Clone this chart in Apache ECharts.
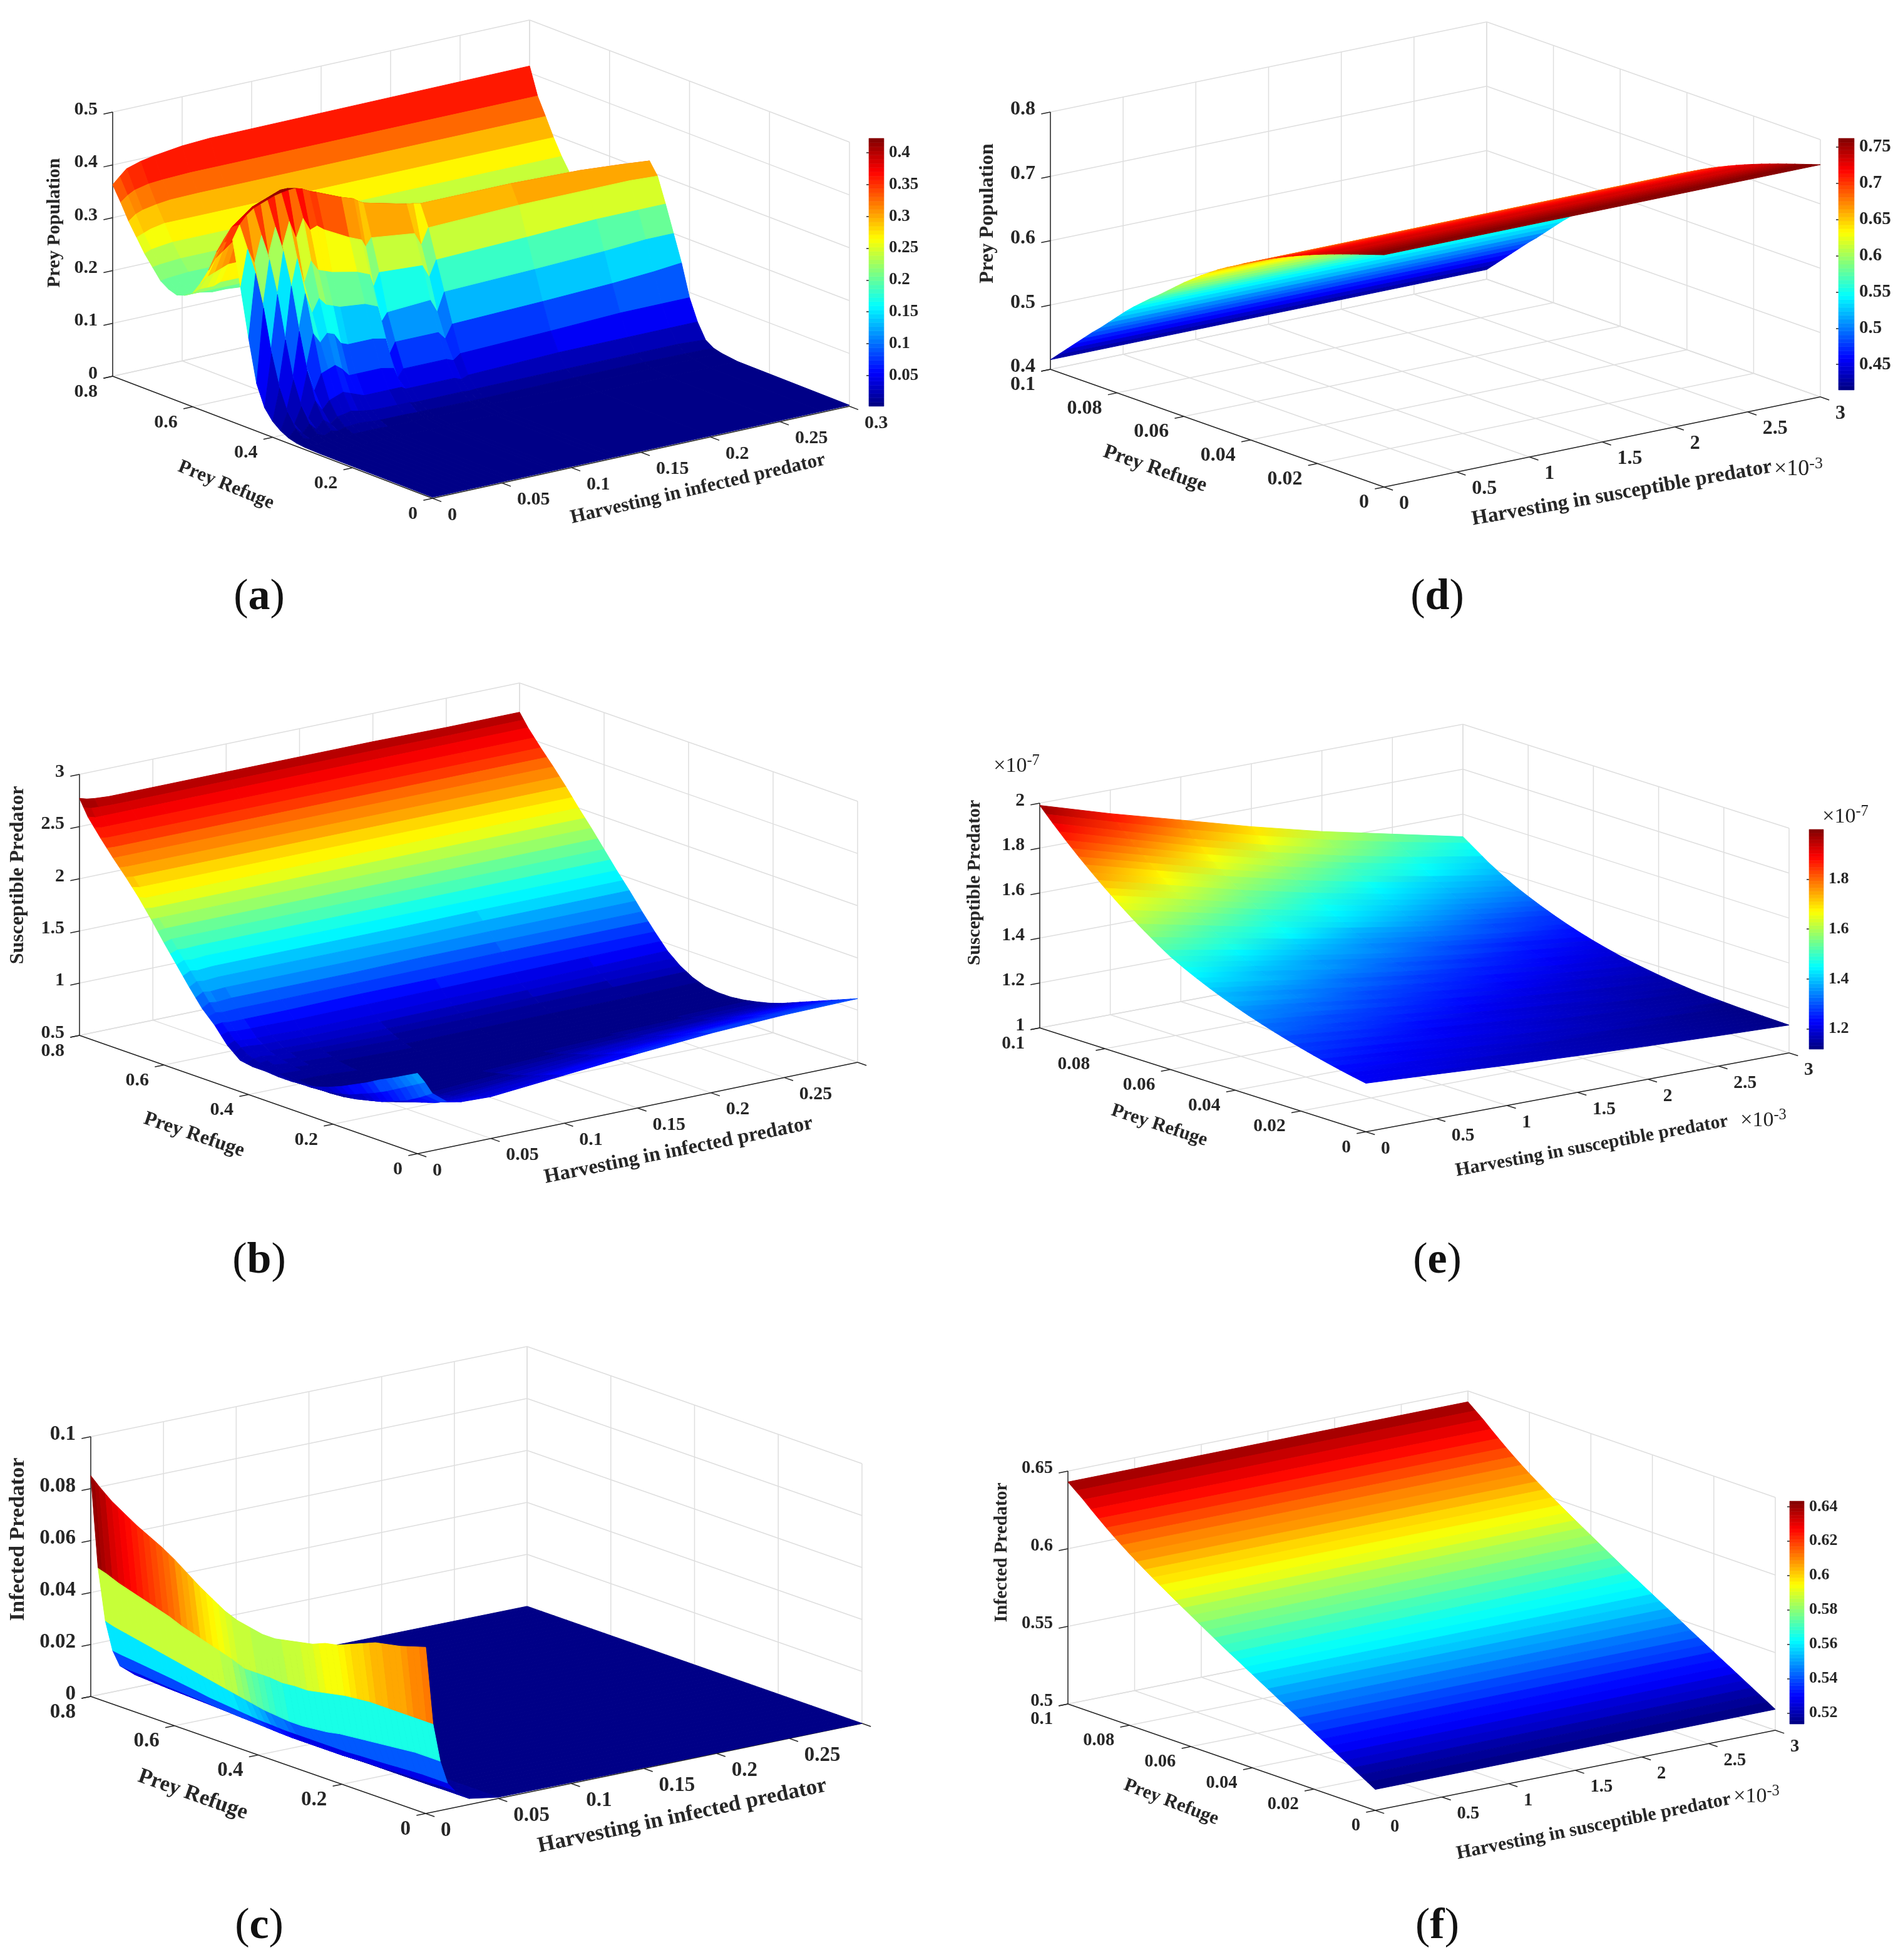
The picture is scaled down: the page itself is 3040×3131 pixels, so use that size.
<!DOCTYPE html>
<html><head><meta charset="utf-8"><style>html,body{margin:0;background:#fff}#c{width:3040px;height:3131px}</style>
<script src="https://cdn.jsdelivr.net/npm/echarts@6/dist/echarts.min.js"></script></head><body><div id="c"></div>
<script>
// ---------- panel (a) ----------
const aRearX=[0,.005,.01,.02,.03,.05,.07,.3];
const aRearY=[.62,.64,.66,.68,.70,.72,.74,.76,.78,.80];
const aRearZ=[
[.205,.205,.205,.2,.2,.195,.19,.19],
[.20,.2,.2,.2,.2,.195,.195,.195],
[.205,.205,.205,.205,.205,.205,.205,.205],
[.215,.217,.218,.22,.22,.22,.22,.22],
[.235,.237,.238,.24,.24,.24,.24,.24],
[.255,.26,.262,.265,.265,.265,.265,.265],
[.28,.285,.29,.295,.295,.295,.295,.295],
[.305,.315,.32,.325,.328,.329,.329,.329],
[.335,.345,.352,.358,.36,.362,.362,.362],
[.3625,.375,.387,.395,.40,.407,.41,.413]];
const aFrontX=[0,.005,.01,.015,.02,.025,.03,.035,.04,.045,.05,.055,.06,.078,.087,.09,.094,.125,.13,.135,.2,.25,.28,.3];
const aFrontY=[0,.28,.32,.34,.36,.38,.40,.42,.44,.46,.48,.50,.52,.54,.56,.58,.60,.62];
const aFrontZ=[
[.002,.002,.002,.002,.002,.002,.002,.002,.002,.002,.002,.002,.002,.002,.002,.002,.002,.002,.002,.002,.002,.002,.002,.002],
[.003,.004,.003,.004,.004,.004,.004,.004,.004,.004,.004,.004,.004,.004,.004,.004,.004,.004,.004,.004,.004,.004,.004,.004],
[.004,.007,.005,.008,.006,.008,.007,.009,.009,.009,.009,.009,.008,.008,.008,.008,.008,.008,.008,.008,.008,.008,.008,.008],
[.006,.012,.008,.014,.009,.015,.012,.016,.017,.018,.017,.016,.015,.015,.014,.014,.014,.013,.013,.013,.014,.014,.013,.012],
[.01,.025,.013,.028,.015,.03,.02,.03,.032,.035,.032,.03,.028,.027,.027,.025,.025,.025,.024,.025,.025,.025,.025,.022],
[.018,.05,.025,.055,.03,.06,.04,.055,.06,.065,.06,.055,.05,.05,.05,.045,.045,.045,.04,.045,.05,.05,.05,.05],
[.03,.09,.045,.10,.05,.11,.07,.10,.105,.11,.10,.085,.085,.085,.08,.06,.075,.075,.07,.08,.085,.09,.09,.09],
[.05,.15,.085,.17,.09,.18,.11,.17,.15,.165,.16,.14,.135,.135,.13,.10,.12,.12,.105,.13,.135,.14,.145,.15],
[.09,.23,.14,.25,.15,.26,.17,.24,.20,.225,.21,.205,.20,.195,.185,.155,.17,.175,.15,.185,.19,.195,.2,.20],
[.17,.29,.22,.31,.23,.32,.24,.30,.25,.29,.27,.265,.26,.25,.24,.215,.24,.235,.21,.24,.245,.25,.25,.25],
[.26,.33,.30,.35,.31,.36,.32,.365,.33,.365,.34,.345,.335,.31,.30,.285,.30,.29,.265,.295,.30,.30,.30,.297],
[.345,.37,.385,.395,.40,.405,.41,.413,.415,.416,.412,.405,.40,.38,.372,.366,.36,.34,.338,.335,.335,.331,.325,.32],
[.335,.36,.37,.38,.39,.395,.40,.405,.41,.41,.405,.395,.39,.37,.36,.35,.345,.33,.325,.32,.32,.315,.31,.31],
[.31,.33,.345,.355,.365,.37,.375,.38,.38,.38,.375,.37,.36,.345,.335,.325,.32,.3,.3,.295,.295,.295,.29,.29],
[.27,.29,.3,.31,.32,.325,.33,.33,.33,.33,.325,.315,.31,.29,.28,.27,.265,.26,.26,.26,.26,.26,.26,.26],
[.24,.25,.255,.26,.265,.265,.27,.27,.27,.27,.265,.26,.255,.24,.235,.23,.225,.22,.22,.22,.22,.22,.22,.22],
[.215,.22,.22,.22,.225,.225,.225,.225,.225,.225,.22,.22,.215,.21,.205,.205,.2,.2,.2,.2,.2,.2,.2,.2],
[.205,.205,.205,.205,.205,.205,.205,.205,.205,.205,.205,.2,.2,.2,.2,.195,.195,.19,.19,.19,.19,.19,.19,.19]];
// ---------- panel (b) ----------
const bX=[0,.005,.01,.02,.03,.05,.1,.15,.2,.25,.3];
const bY=[0,.03,.06,.09,.12,.15,.18,.21,.24,.27,.30,.33,.36,.39,.42,.45,.48,.51,.54,.57,.60,.63,.66,.69,.72,.75,.78,.80];
const bZ=[
[1.27,1.17,1.05,.94,.91,.90,.96,1.02,1.07,1.10,1.11],
[1.205,1.10,.97,.89,.87,.86,.92,.98,1.03,1.05,1.06],
[1.14,1.03,.90,.85,.83,.82,.87,.93,.97,1.0,1.01],
[1.08,.96,.85,.81,.79,.78,.83,.88,.92,.95,.96],
[1.01,.90,.80,.77,.76,.75,.79,.84,.87,.90,.91],
[.95,.85,.77,.74,.73,.72,.76,.80,.83,.85,.86],
[.89,.80,.74,.72,.71,.70,.73,.76,.78,.80,.81],
[.84,.77,.72,.71,.70,.69,.71,.73,.75,.77,.77],
[.80,.75,.71,.71,.70,.69,.70,.71,.72,.73,.74],
[.78,.74,.71,.71,.71,.69,.69,.70,.70,.71,.715],
[.77,.74,.72,.72,.72,.70,.69,.69,.70,.70,.70],
[.77,.75,.74,.74,.73,.71,.70,.70,.70,.70,.70],
[.78,.77,.77,.76,.75,.73,.71,.71,.71,.71,.715],
[.78,.80,.81,.79,.78,.77,.75,.75,.75,.75,.76],
[.80,.84,.85,.83,.83,.82,.81,.81,.82,.83,.83],
[.90,.93,.92,.91,.91,.90,.90,.91,.91,.92,.93],
[1.05,1.06,1.05,1.05,1.05,1.05,1.06,1.06,1.07,1.07,1.07],
[1.17,1.21,1.2,1.21,1.21,1.21,1.21,1.22,1.22,1.22,1.22],
[1.33,1.37,1.36,1.37,1.37,1.37,1.37,1.37,1.38,1.38,1.38],
[1.50,1.53,1.52,1.53,1.53,1.53,1.53,1.53,1.53,1.53,1.53],
[1.67,1.69,1.69,1.69,1.69,1.69,1.69,1.69,1.69,1.69,1.69],
[1.85,1.85,1.85,1.85,1.85,1.85,1.85,1.85,1.85,1.85,1.85],
[2.02,2.0,2.0,2.0,2.0,2.0,2.0,2.0,2.0,2.0,2.0],
[2.17,2.16,2.16,2.16,2.16,2.16,2.16,2.16,2.16,2.16,2.16],
[2.31,2.31,2.31,2.31,2.31,2.31,2.31,2.31,2.31,2.31,2.31],
[2.46,2.45,2.45,2.45,2.45,2.45,2.45,2.45,2.45,2.45,2.45],
[2.62,2.6,2.6,2.6,2.6,2.6,2.6,2.6,2.6,2.6,2.6],
[2.77,2.75,2.74,2.73,2.73,2.73,2.73,2.73,2.73,2.72,2.72]];
// ---------- panel (c) ----------
const cX=[0,.005,.01,.015,.02,.03,.05,.3];
const cY=[0,.03,.06,.09,.12,.15,.18,.21,.24,.27,.30,.33,.36,.39,.42,.45,.48,.51,.54,.57,.60,.63,.66,.69,.72,.75,.78,.80];
const cZ=[
[.064,.034,.019,.010,.0065,.0023,.0005,0],
[.0625,.034,.019,.010,.0065,.0023,.0005,0],
[.061,.034,.019,.010,.0062,.0023,.0005,0],
[.060,.034,.0185,.0098,.006,.0022,.0005,0],
[.059,.034,.018,.0095,.006,.0022,.0005,0],
[.057,.034,.0175,.0092,.0058,.0022,.0005,0],
[.055,.0335,.017,.009,.0055,.0022,.0005,0],
[.053,.033,.0165,.0088,.0055,.0022,.0005,0],
[.052,.032,.016,.0085,.0052,.0022,.0005,0],
[.05,.031,.015,.0085,.005,.0022,.0005,0],
[.049,.03,.0145,.0085,.005,.0022,.0005,0],
[.048,.03,.014,.0085,.005,.0022,.0005,0],
[.047,.0295,.014,.0085,.005,.0022,.0005,0],
[.047,.03,.0145,.0085,.005,.0022,.0005,0],
[.048,.03,.015,.0088,.0052,.0024,.0005,0],
[.049,.03,.016,.009,.0055,.0025,.0005,0],
[.051,.032,.017,.0095,.0058,.0026,.0005,0],
[.054,.0335,.018,.010,.006,.0028,.0005,0],
[.057,.035,.019,.0105,.0063,.003,.0005,0],
[.0605,.0365,.02,.011,.0066,.0032,.0005,0],
[.064,.038,.021,.0118,.007,.0034,.0005,0],
[.067,.04,.022,.0125,.0073,.0036,.0005,0],
[.0695,.0415,.023,.0132,.0077,.0038,.0005,0],
[.072,.043,.024,.0138,.008,.004,.0005,0],
[.075,.0445,.025,.0144,.0085,.0042,.0005,0],
[.078,.046,.026,.015,.009,.0045,.0005,0],
[.082,.048,.027,.0155,.0092,.0048,.0005,0],
[.085,.049,.028,.016,.0095,.005,.0005,0]];
// colour levels of the second to fifth strips, one per row
const cStrip2=[.034,.034,.034,.034,.034,.034,.034,.034,.034,.034,.034,.034,.035,.036,.039,.043,.047,.048,.048,.048,.048,.048,.048,.048,.048,.048,.048,.048];
const cStrip3=[.018,.018,.018,.018,.018,.018,.018,.018,.018,.018,.018,.018,.019,.021,.024,.027,.029,.03,.03,.03,.03,.03,.03,.03,.03,.03,.03,.03];
const cStrip4=[.008,.008,.008,.008,.008,.008,.008,.008,.008,.008,.008,.008,.009,.011,.013,.015,.016,.016,.016,.016,.016,.016,.016,.016,.016,.016,.016,.016];
const cStrip5=[.003,.003,.003,.003,.003,.003,.003,.003,.003,.003,.003,.003,.003,.004,.006,.007,.008,.008,.008,.008,.008,.008,.008,.008,.008,.008,.008,.008];
const cStrips=[cStrip2,cStrip3,cStrip4,cStrip5];
// ---------- panel (d) ----------
const dX=[0,3];
const dY=[0,.0025,.005,.0075,.01,.0125,.015,.0175,.02,.0225,.025,.0275,.03,.0325,.035,.0375,.04,.0425,.045,.0475,.05,.0525,.055,.0575,.06,.0625,.065,.0675,.07,.0725,.075,.0775,.08,.0825,.085,.0875,.09,.0925,.095,.0975,.1];
const dProfile=[.761,.7568,.7525,.7482,.7438,.7393,.7347,.73,.725,.7198,.7144,.7087,.7028,.6966,.69,.683,.676,.669,.661,.654,.646,.637,.628,.618,.608,.597,.586,.575,.565,.554,.543,.531,.518,.505,.492,.480,.467,.454,.441,.428,.415];
// ---------- panel (e) ----------
const eX=[0,.5,1,1.5,2,2.5,3];
const eY=[0,.004,.008,.012,.016,.02,.024,.028,.032,.036,.04,.044,.048,.052,.056,.06,.064,.068,.072,.076,.08,.084,.088,.092,.096,.1];
const eZ=[
[1.216,1.198,1.179,1.163,1.148,1.135,1.124],
[1.227,1.207,1.186,1.168,1.152,1.138,1.1255],
[1.239,1.217,1.194,1.174,1.156,1.140,1.127],
[1.252,1.227,1.203,1.181,1.161,1.144,1.129],
[1.266,1.239,1.212,1.188,1.166,1.147,1.131],
[1.281,1.252,1.222,1.196,1.172,1.152,1.134],
[1.297,1.265,1.233,1.204,1.179,1.156,1.137],
[1.314,1.279,1.245,1.214,1.186,1.162,1.141],
[1.332,1.295,1.258,1.225,1.195,1.169,1.147],
[1.351,1.312,1.272,1.237,1.205,1.178,1.154],
[1.372,1.33,1.288,1.25,1.217,1.187,1.162],
[1.394,1.349,1.305,1.265,1.229,1.198,1.171],
[1.418,1.371,1.323,1.281,1.243,1.209,1.181],
[1.444,1.394,1.344,1.298,1.258,1.223,1.193],
[1.472,1.419,1.366,1.318,1.276,1.239,1.207],
[1.503,1.447,1.391,1.34,1.295,1.256,1.222],
[1.54,1.48,1.42,1.365,1.317,1.275,1.239],
[1.58,1.516,1.451,1.393,1.342,1.297,1.258],
[1.622,1.553,1.485,1.423,1.368,1.32,1.279],
[1.667,1.594,1.521,1.455,1.397,1.346,1.302],
[1.714,1.637,1.559,1.49,1.428,1.373,1.327],
[1.764,1.682,1.6,1.526,1.461,1.403,1.354],
[1.816,1.73,1.644,1.566,1.497,1.437,1.385],
[1.871,1.781,1.691,1.609,1.537,1.474,1.42],
[1.929,1.835,1.741,1.657,1.582,1.516,1.46],
[1.99,1.895,1.808,1.72,1.64,1.57,1.5]];
// ---------- panel (f) ----------
const fX=[0,3];
const fY=[0,.0025,.005,.0075,.01,.0125,.015,.0175,.02,.0225,.025,.0275,.03,.0325,.035,.0375,.04,.0425,.045,.0475,.05,.0525,.055,.0575,.06,.0625,.065,.0675,.07,.0725,.075,.0775,.08,.0825,.085,.0875,.09,.0925,.095,.0975,.1];
const fProfile=[.5135,.5164,.5193,.5222,.5251,.528,.5309,.5338,.5367,.5396,.5425,.5454,.5484,.5513,.5543,.5572,.5602,.5631,.5661,.569,.572,.5751,.5782,.5813,.5844,.5875,.5906,.5938,.597,.6002,.6036,.607,.6105,.6142,.618,.622,.6262,.6305,.635,.639,.643];
// ---------- ticks ----------
const infXTicks=[0,.05,.1,.15,.2,.25,.3];
const infXLabelled=[0,.05,.1,.15,.2,.25];
const susXTicks=[0,.5,1,1.5,2,2.5,3];
const wideYTicks=[0,.2,.4,.6,.8];
const narrowYTicks=[0,.02,.04,.06,.08,.1];
const aZTicks=[0,.1,.2,.3,.4,.5];
const bZTicks=[.5,1,1.5,2,2.5,3];
const cZTicks=[0,.02,.04,.06,.08,.1];
const dZTicks=[.4,.5,.6,.7,.8];
const eZTicks=[1,1.2,1.4,1.6,1.8,2];
const fZTicks=[.5,.55,.6,.65];
const aBarTicks=[.05,.1,.15,.2,.25,.3,.35,.4];
const dBarTicks=[.45,.5,.55,.6,.65,.7,.75];
const eBarTicks=[1.2,1.4,1.6,1.8];
const fBarTicks=[.52,.54,.56,.58,.6,.62,.64];
const xInfTitle='Harvesting in infected predator', xSusTitle='Harvesting in susceptible predator', yTitle='Prey Refuge';

const SERIF='"Liberation Serif","Times New Roman",serif', INK='#262626';
const panels=[
{id:'a',L:[180,601],B:[691,796],R:[1357,649],H:422,xMax:.3,yMax:.8,zR:[0,.5],v:[.0016,.4226],xT:infXTicks,xL:infXTicks,yT:wideYTicks,zT:aZTicks,tf:30,
 surfaces:[{xs:aRearX,ys:aRearY,zs:aRearZ},{xs:aFrontX,ys:aFrontY,zs:aFrontZ}],
 xTitle:[xInfTitle,1115,781,13,31],yTitle:[361,775,22,31],zTitle:['Prey Population',87,356,30],cap:['a',409,950],
 bar:{rect:[1388,221,24,428],ticks:aBarTicks,font:27}},
{id:'b',L:[127,1654],B:[667,1843],R:[1370,1697],H:417,xMax:.3,yMax:.8,zR:[.5,3],v:[.69,2.77],xT:infXTicks,xL:infXLabelled,yT:wideYTicks,zT:bZTicks,tf:30,
 surfaces:[{xs:bX,ys:bY,zs:bZ,sub:2}],
 xTitle:[xInfTitle,1084,1838,11.5,32.5],yTitle:[310,1813,18.6,32],zTitle:['Susceptible Predator',29,1398,32],cap:['b',409,2010]},
{id:'c',L:[145,2710],B:[680,2897],R:[1377,2753],H:415,xMax:.3,yMax:.8,zR:[0,.1],v:[0,.085],xT:infXTicks,xL:infXLabelled,yT:wideYTicks,zT:cZTicks,tf:33,
 surfaces:[{xs:cX,ys:cY,zs:cZ,sub:2,level:(i,j,z)=>(j>=1&&j<=4)?cStrips[j-1][i]:z}],
 xTitle:[xInfTitle,1090,2901,12,35],yTitle:[308,2867,19.4,35],zTitle:['Infected Predator',29,2459,34.5],cap:['c',409,3073]},
{id:'d',L:[1678,590],B:[2211,778],R:[2908,634],H:411,xMax:3,yMax:.1,zR:[.4,.8],v:[.4148,.762],xT:susXTicks,xL:susXTicks,yT:narrowYTicks,zT:dZTicks,tf:32,
 surfaces:[{xs:dX,ys:dY,zs:dProfile.map(v=>[v,v])}],
 xTitle:[xSusTitle,2591,788,10,33],yTitle:[1845,749,19,33],zTitle:['Prey Population',1578,341,32.4],cap:['d',2291,950],
 exps:[['-3',2873,750,36]],bar:{rect:[2937,221,25,402],ticks:dBarTicks,font:29}},
{id:'e',L:[1661,1642],B:[2182,1808],R:[2858,1682],H:359,xMax:3,yMax:.1,zR:[1,2],v:[1.119,1.999],xT:susXTicks,xL:susXTicks,yT:narrowYTicks,zT:eZTicks,tf:29.5,
 surfaces:[{xs:eX,ys:eY,zs:eZ,gradient:true,sub:2}],
 xTitle:[xSusTitle,2543,1831,10.4,30],yTitle:[1852,1798,18,30.5],zTitle:['Susceptible Predator',1557,1410,29.7],cap:['e',2291,2010],
 exps:[['-3',2817,1790,34],['-7',1624,1224,34],['-7',2948,1305,34]],bar:{rect:[2890,1325,23,351],ticks:eBarTicks,font:26}},
{id:'f',L:[1706,2722],B:[2197,2892],R:[2836,2764],H:372,xMax:3,yMax:.1,zR:[.5,.65],v:[.5136,.6432],xT:susXTicks,xL:susXTicks,yT:narrowYTicks,zT:fZTicks,tf:28.6,
 surfaces:[{xs:fX,ys:fY,zs:fProfile.map(v=>[v,v])}],
 xTitle:[xSusTitle,2546,2918,11.3,30.3],yTitle:[1871,2879,20.8,30.5],zTitle:['Infected Predator',1600,2480,29.5],cap:['f',2291,3073],
 exps:[['-3',2806,2870,34]],bar:{rect:[2859,2398,23,356],ticks:fBarTicks,font:26}}
];

function jet(val,lo,hi){
  let t=(val-lo)/(hi-lo); t=Math.max(0,Math.min(.9999,t));
  t=(Math.floor(t*64)+.5)/64;
  const c=u=>Math.round(255*Math.max(0,Math.min(1,1.5-Math.abs(4*t-u))));
  return `rgb(${c(3)},${c(2)},${c(1)})`;
}
const grids=[],xAxes=[],yAxes=[],series=[],titles=[];
panels.forEach(p=>{
  const back=[p.L[0]+p.R[0]-p.B[0],p.L[1]+p.R[1]-p.B[1]];
  const left=p.L[0],top=back[1]-p.H,w=p.R[0]-p.L[0],h=p.B[1]-top;
  const gi=grids.length;
  grids.push({left,top,width:w,height:h});
  xAxes.push({type:'value',gridIndex:gi,min:0,max:1,show:false});
  yAxes.push({type:'value',gridIndex:gi,min:0,max:1,show:false});
  const proj=(x,y,z)=>{
    const xn=x/p.xMax,yn=y/p.yMax,zn=(z-p.zR[0])/(p.zR[1]-p.zR[0]);
    const px=p.B[0]+xn*(p.R[0]-p.B[0])+yn*(p.L[0]-p.B[0]);
    const py=p.B[1]+xn*(p.R[1]-p.B[1])+yn*(p.L[1]-p.B[1])-zn*p.H;
    return [(px-left)/w,(top+h-py)/h];
  };
  const z0=p.zR[0],z1=p.zR[1],GRID='#dedede',font=(s,b)=>`${b?'bold ':''}${s}px ${SERIF}`;
  const lenXY=Math.hypot(p.R[0]-p.B[0],p.R[1]-p.B[1]),lenYX=Math.hypot(p.L[0]-p.B[0],p.L[1]-p.B[1]);
  const outY=[(p.B[0]-p.L[0])/lenYX*15,(p.B[1]-p.L[1])/lenYX*15];
  const outX=[(p.B[0]-p.R[0])/lenXY*15,(p.B[1]-p.R[1])/lenXY*15];
  const items=[];
  const seg=(a,b,c,lw,d)=>items.push({a,b,c,lw,d});
  const txt=(at,dx,dy,text,align,f)=>items.push({at,dx,dy,text,align,f});
  p.xT.forEach(x=>{seg([x,p.yMax,z0],[x,p.yMax,z1],GRID,1.5);seg([x,0,z0],[x,p.yMax,z0],GRID,1.5);});
  p.yT.forEach(y=>{seg([p.xMax,y,z0],[p.xMax,y,z1],GRID,1.5);seg([0,y,z0],[p.xMax,y,z0],GRID,1.5);});
  p.zT.forEach(z=>{seg([0,p.yMax,z],[p.xMax,p.yMax,z],GRID,1.5);seg([p.xMax,p.yMax,z],[p.xMax,0,z],GRID,1.5);});
  seg([0,0,z0],[p.xMax,0,z0],INK,1.5);
  seg([0,0,z0],[0,p.yMax,z0],INK,1.5);
  seg([0,p.yMax,z0],[0,p.yMax,z1],INK,1.5);
  p.xT.forEach(x=>seg([x,0,z0],[x,0,z0],INK,1.5,outY));
  p.yT.forEach(y=>seg([0,y,z0],[0,y,z0],INK,1.5,outX));
  p.zT.forEach(z=>seg([0,p.yMax,z],[0,p.yMax,z],INK,1.5,outX));
  p.xL.forEach(x=>txt([x,0,z0],24,27,String(x),'left',font(p.tf,true)));
  p.yT.forEach(y=>txt([0,y,z0],-24,25,String(y),'right',font(p.tf,true)));
  p.zT.forEach(z=>txt([0,p.yMax,z],-24,-4,String(z),'right',font(p.tf,true)));
  series.push({type:'custom',coordinateSystem:'cartesian2d',xAxisIndex:gi,yAxisIndex:gi,z:1,silent:true,animation:false,clip:false,progressive:0,
    data:items.map((_,i)=>[i]),
    renderItem:(params,api)=>{
      const it=items[api.value(0)];
      if(it.at){const q=api.coord(proj(...it.at));
        return {type:'text',x:q[0]+it.dx,y:q[1]+it.dy,style:{text:it.text,font:it.f,fill:INK,textAlign:it.align,textVerticalAlign:'middle'}};}
      const s=api.coord(proj(...it.a)),e=api.coord(proj(...it.b));
      const d=it.d||[0,0];
      return {type:'line',shape:{x1:s[0],y1:s[1],x2:e[0]+d[0],y2:e[1]+d[1]},style:{stroke:it.c,lineWidth:it.lw}};
    }});
  p.surfaces.forEach((s,si)=>{
    const faces=[];
    for(let i=s.ys.length-2;i>=0;i--)for(let j=s.xs.length-2;j>=0;j--)faces.push([i,j]);
    const lv=(i,j)=>s.level?s.level(i,j,s.zs[i][j]):s.zs[i][j];
    const n=s.sub||1;
    series.push({type:'custom',coordinateSystem:'cartesian2d',xAxisIndex:gi,yAxisIndex:gi,z:2+si,silent:true,animation:false,clip:false,progressive:0,
      data:faces,
      renderItem:(params,api)=>{
        const i=api.value(0),j=api.value(1);
        const P=(a,b)=>api.coord(proj(s.xs[b],s.ys[a],s.zs[a][b]));
        const p00=P(i,j),p01=P(i,j+1),p10=P(i+1,j),p11=P(i+1,j+1);
        const mix=(a,b,f)=>[a[0]+(b[0]-a[0])*f,a[1]+(b[1]-a[1])*f];
        const children=[];
        for(let k=n-1;k>=0;k--){
          const f0=k/n,f1=(k+1)/n;
          const pts=[mix(p00,p10,f0),mix(p01,p11,f0),mix(p01,p11,f1),mix(p00,p10,f1)];
          const l0=lv(i,j)+(lv(i+1,j)-lv(i,j))*f0;
          let fill=jet(l0,p.v[0],p.v[1]);
          if(s.gradient){
            const l1=lv(i,j+1)+(lv(i+1,j+1)-lv(i,j+1))*f0;
            fill=new echarts.graphic.LinearGradient(pts[0][0],pts[0][1],pts[1][0],pts[1][1],
              [{offset:0,color:jet(l0,p.v[0],p.v[1])},{offset:1,color:jet(l1,p.v[0],p.v[1])}],true);
          }
          children.push({type:'polygon',shape:{points:pts},style:{fill,stroke:fill,lineWidth:1}});
        }
        return {type:'group',children};
      }});
  });
  const labels=[];
  labels.push({t:p.xTitle[0],x:p.xTitle[1],y:p.xTitle[2],r:p.xTitle[3],f:font(p.xTitle[4],true)});
  labels.push({t:yTitle,x:p.yTitle[0],y:p.yTitle[1],r:-p.yTitle[2],f:font(p.yTitle[3],true)});
  labels.push({t:p.zTitle[0],x:p.zTitle[1],y:p.zTitle[2],r:90,f:font(p.zTitle[3],true)});
  (p.exps||[]).forEach(e=>labels.push({t:'×10{s|'+e[0]+'}',x:e[1],y:e[2],r:0,f:font(e[3],false),sz:e[3]}));
  series.push({type:'custom',coordinateSystem:'cartesian2d',xAxisIndex:gi,yAxisIndex:gi,z:5,silent:true,animation:false,clip:false,
    data:labels.map((_,i)=>[i]),
    renderItem:(params,api)=>{
      const l=labels[api.value(0)];
      const style={text:l.t,font:l.f,fill:INK,textAlign:'center',textVerticalAlign:'middle'};
      if(l.sz)style.rich={s:{fontSize:l.sz*.72,fontFamily:SERIF,fill:INK,padding:[0,0,l.sz*.5,0]}};
      return {type:'text',x:l.x,y:l.y,rotation:l.r*Math.PI/180,style};
    }});
  titles.push({text:'({b|'+p.cap[0]+'})',left:p.cap[1],top:p.cap[2],textAlign:'center',textVerticalAlign:'middle',
    textStyle:{fontFamily:SERIF,fontSize:70,fontWeight:'normal',color:'#111',rich:{b:{fontFamily:SERIF,fontSize:70,fontWeight:'bold',color:'#111'}}}});
  if(p.bar){
    const r=p.bar.rect,bi=grids.length;
    grids.push({left:r[0],top:r[1],width:r[2],height:r[3]});
    xAxes.push({type:'value',gridIndex:bi,min:0,max:1,show:false});
    yAxes.push({type:'value',gridIndex:bi,min:p.v[0],max:p.v[1],position:'right',splitLine:{show:false},axisLine:{show:false},
      axisTick:{show:true,inside:true,length:4,lineStyle:{color:INK,width:1.5},customValues:p.bar.ticks},
      axisLabel:{show:true,margin:8,color:INK,fontFamily:SERIF,fontWeight:'bold',fontSize:p.bar.font,customValues:p.bar.ticks}});
    const levels=[];for(let k=0;k<64;k++)levels.push([k]);
    series.push({type:'custom',coordinateSystem:'cartesian2d',xAxisIndex:bi,yAxisIndex:bi,z:1,silent:true,animation:false,
      data:levels,
      renderItem:(params,api)=>{
        const k=api.value(0),st=(p.v[1]-p.v[0])/64,lo=p.v[0]+k*st;
        const a=api.coord([0,lo]),b=api.coord([1,lo+st]);
        const col=jet(lo+st/2,p.v[0],p.v[1]);
        return {type:'rect',shape:{x:a[0],y:b[1],width:b[0]-a[0],height:a[1]-b[1]},style:{fill:col,stroke:col,lineWidth:.6}};
      }});
  }
});
const chart=echarts.init(document.getElementById('c'),null,{renderer:'canvas'});
chart.setOption({animation:false,backgroundColor:'#fff',title:titles,grid:grids,xAxis:xAxes,yAxis:yAxes,series});
</script></body></html>
